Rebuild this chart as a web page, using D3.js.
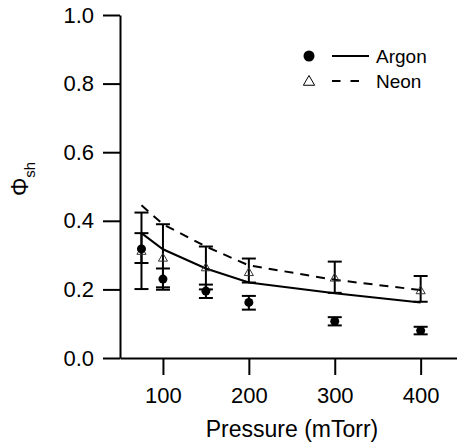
<!DOCTYPE html>
<html>
<head>
<meta charset="utf-8">
<script src="https://cdn.jsdelivr.net/npm/d3@7"></script>
<style>
  body { margin: 0; background: #fff; }
  text { font-family: "Liberation Sans", Arial, sans-serif; fill: #000; }
</style>
</head>
<body>
<div id="chart"></div>
<script>
// data
const pressures = [75, 100, 150, 200, 300, 400];
const argonValues = [0.318, 0.230, 0.195, 0.162, 0.107, 0.080];
const argonLow = [0.201, 0.199, 0.175, 0.141, 0.095, 0.069];
const argonHigh = [0.424, 0.261, 0.214, 0.181, 0.119, 0.091];
const neonValues = [0.310, 0.290, 0.262, 0.248, 0.232, 0.195];
const neonLow = [0.277, 0.206, 0.200, 0.220, 0.190, 0.164];
const neonHigh = [0.364, 0.390, 0.325, 0.290, 0.281, 0.239];
const argonModel = [0.364, 0.317, 0.261, 0.220, 0.189, 0.162];
const neonModel = [0.445, 0.390, 0.325, 0.270, 0.228, 0.198];
const xTicks = [100, 200, 300, 400];
const yTicks = [0, 0.2, 0.4, 0.6, 0.8, 1.0];
const seriesNames = ["Argon", "Neon"];

/**
 * builds the rows for one series
 */
function makeRows(values, low, high, model) {
    return pressures.map((p, i) => ({p: p, v: values[i], lo: low[i], hi: high[i], m: model[i]}));
}

function appendToDom() {
    return d3.select("#chart").append("svg")
        .attr("width", 457)
        .attr("height", 445);
}

function drawXAxis(svg, x, y) {
    const g = svg.append("g")
        .attr("transform", "translate(0," + y(0) + ")")
        .call(d3.axisBottom(x).tickValues(xTicks).tickSize(17).tickSizeOuter(0).tickPadding(12).tickFormat(d3.format("d")));
    g.select(".domain").attr("stroke-width", 2);
    g.selectAll(".tick line").attr("stroke-width", 2);
    g.selectAll(".tick text").style("font-size", "22px").attr("font-family", null);
}

function drawYAxis(svg, x, y) {
    const g = svg.append("g")
        .attr("transform", "translate(" + x.range()[0] + ",0)")
        .call(d3.axisLeft(y).tickValues(yTicks).tickSize(17).tickSizeOuter(0).tickPadding(9).tickFormat(d3.format(".1f")));
    g.select(".domain").attr("stroke-width", 2);
    g.selectAll(".tick line").attr("stroke-width", 2);
    g.selectAll(".tick text").style("font-size", "22px").attr("font-family", null);
}

function labels(svg) {
    svg.append("text")
        .attr("x", 292)
        .attr("y", 437)
        .attr("text-anchor", "middle")
        .style("font-size", "23px")
        .text("Pressure (mTorr)");

    const t = svg.append("text")
        .attr("text-anchor", "middle")
        .attr("transform", "translate(28,179)rotate(-90)");
    t.append("tspan").style("font-size", "23px").text("Φ");
    t.append("tspan").style("font-size", "15px").attr("dy", 7).text("sh");
}

function drawErrorBars(svg, rows, x, y) {
    const g = svg.append("g").attr("stroke", "#000").attr("stroke-width", 2);
    g.selectAll(".bar").data(rows).enter().append("line")
        .attr("x1", d => x(d.p)).attr("x2", d => x(d.p))
        .attr("y1", d => y(d.lo)).attr("y2", d => y(d.hi));
    ["lo", "hi"].forEach(k => {
        g.selectAll(".cap-" + k).data(rows).enter().append("line")
            .attr("x1", d => x(d.p) - 7).attr("x2", d => x(d.p) + 7)
            .attr("y1", d => y(d[k])).attr("y2", d => y(d[k]));
    });
}

function drawModel(svg, rows, x, y, dash) {
    svg.append("path")
        .datum(rows)
        .attr("fill", "none")
        .attr("stroke", "#000")
        .attr("stroke-width", 2)
        .attr("stroke-dasharray", dash)
        .attr("d", d3.line().x(d => x(d.p)).y(d => y(d.m)));
}

function plotCircles(svg, rows, x, y) {
    svg.selectAll(".dot").data(rows).enter().append("circle")
        .attr("fill", "#000")
        .attr("cx", d => x(d.p))
        .attr("cy", d => y(d.v))
        .attr("r", 4.5);
}

const tri = d3.symbol(d3.symbolTriangle);

function plotTriangles(svg, rows, x, y) {
    svg.selectAll(".tri").data(rows).enter().append("path")
        .attr("fill", "none")
        .attr("stroke", "#333")
        .attr("stroke-width", 1)
        .attr("transform", d => "translate(" + x(d.p) + "," + y(d.v) + ")")
        .attr("d", tri.size(36)());
}

function drawLegend(svg) {
    const g = svg.append("g");
    seriesNames.forEach((name, i) => {
        const cy = 56 + i * 25;
        if (i === 0) {
            g.append("circle").attr("cx", 309).attr("cy", cy).attr("r", 5.5).attr("fill", "#000");
        } else {
            g.append("path").attr("transform", "translate(309," + (cy + 1) + ")")
                .attr("d", tri.size(55)()).attr("fill", "none").attr("stroke", "#000").attr("stroke-width", 1);
        }
        g.append("line")
            .attr("x1", 332).attr("x2", 369)
            .attr("y1", cy).attr("y2", cy)
            .attr("stroke", "#000").attr("stroke-width", 2)
            .attr("stroke-dasharray", i === 0 ? null : "8.5,10");
        g.append("text")
            .attr("x", 376).attr("y", cy + 6.5)
            .style("font-size", "19px")
            .text(name);
    });
}

function drawGraph() {
    const svg = appendToDom();
    const x = d3.scaleLinear().domain([50, 450]).range([120, 463.6]);
    const y = d3.scaleLinear().domain([0, 1]).range([358, 15]);
    const argon = makeRows(argonValues, argonLow, argonHigh, argonModel);
    const neon = makeRows(neonValues, neonLow, neonHigh, neonModel);

    drawErrorBars(svg, argon, x, y);
    drawErrorBars(svg, neon, x, y);
    drawModel(svg, argon, x, y, null);
    drawModel(svg, neon, x, y, "9,7");
    drawXAxis(svg, x, y);
    drawYAxis(svg, x, y);
    plotTriangles(svg, neon, x, y);
    plotCircles(svg, argon, x, y);
    labels(svg);
    drawLegend(svg);
}

drawGraph();
</script>
</body>
</html>
